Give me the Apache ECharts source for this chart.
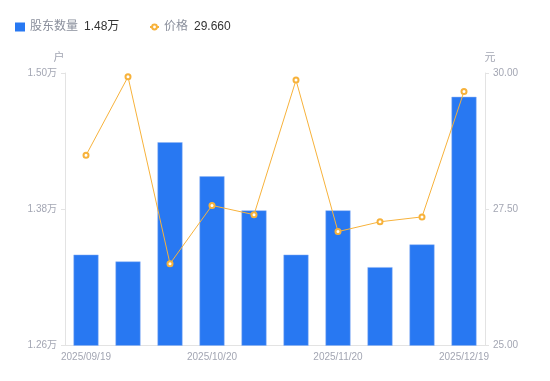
<!DOCTYPE html>
<html>
<head>
<meta charset="utf-8">
<script src="https://cdn.jsdelivr.net/npm/echarts@6/dist/echarts.min.js"></script>
<style>html,body{margin:0;padding:0;background:#fff}#c{width:550px;height:381px}</style>
</head>
<body>
<div id="c"></div>
<script>
const categories = ['2025/09/19','2025/09/30','2025/10/10','2025/10/20','2025/10/31','2025/11/10','2025/11/20','2025/11/28','2025/12/10','2025/12/19'];
const holders = [1.340, 1.334, 1.439, 1.409, 1.379, 1.340, 1.379, 1.329, 1.349, 1.479];
const prices = [28.49, 29.93, 26.50, 27.57, 27.40, 29.87, 27.09, 27.27, 27.36, 29.66];
const leftTicks = [1.26, 1.38, 1.50];
const rightTicks = [25, 27.5, 30];
const holderLegendValue = '1.48万';
const priceLegendValue = '29.660';

const FONT = '"Liberation Sans", "Noto Sans CJK SC", sans-serif';
const legendText = {
  fontFamily: FONT,
  rich: {
    n: { color: '#8a8f9c', fontSize: 12, fontFamily: FONT },
    v: { color: '#333333', fontSize: 12, fontFamily: FONT, padding: [0, 0, 0, 6] }
  }
};
const chart = echarts.init(document.getElementById('c'));
chart.setOption({
  animation: false,
  textStyle: { fontFamily: FONT },
  legend: [
    {
      left: 10, top: 16,
      itemWidth: 10, itemHeight: 9,
      itemStyle: { borderWidth: 0 },
      textStyle: legendText,
      formatter: () => '{n|股东数量}{v|' + holderLegendValue + '}',
      data: [{ name: '股东数量', icon: 'rect' }]
    },
    {
      left: 144, top: 16,
      itemWidth: 9, itemHeight: 6,
      textStyle: legendText,
      formatter: () => '{n|价格}{v|' + priceLegendValue + '}',
      data: [{ name: '价格' }]
    }
  ],
  grid: { left: 65, right: 65, top: 73, bottom: 35.5, containLabel: false },
  xAxis: {
    type: 'category',
    data: categories,
    axisLine: { lineStyle: { color: '#e3e3e3' } },
    axisTick: { show: false },
    axisLabel: { interval: 2, color: '#a3a6b3', fontSize: 10, margin: 7, fontFamily: FONT }
  },
  yAxis: [
    {
      type: 'value', name: '户', min: 1.26, max: 1.50, interval: 0.12,
      nameTextStyle: { color: '#a3a6b3', fontSize: 11, padding: [0, 12, 0, 0] },
      nameGap: 10,
      axisLine: { show: true, lineStyle: { color: '#e3e3e3' } },
      axisTick: { show: true, length: 4, lineStyle: { color: '#e3e3e3' } },
      splitLine: { show: false },
      axisLabel: { color: '#a3a6b3', fontSize: 10, margin: 8, fontFamily: FONT,
        formatter: v => v.toFixed(2) + '万' }
    },
    {
      type: 'value', name: '元', min: 25, max: 30, interval: 2.5,
      nameTextStyle: { color: '#a3a6b3', fontSize: 11, padding: [0, 0, 0, 10] },
      nameGap: 10,
      axisLine: { show: true, lineStyle: { color: '#e3e3e3' } },
      axisTick: { show: true, length: 4, lineStyle: { color: '#e3e3e3' } },
      splitLine: { show: false },
      axisLabel: { color: '#a3a6b3', fontSize: 10, margin: 8, fontFamily: FONT,
        formatter: v => v.toFixed(2) }
    }
  ],
  series: [
    {
      name: '股东数量', type: 'bar', yAxisIndex: 0, data: holders,
      barWidth: 25,
      itemStyle: { color: '#2878f2', borderColor: '#8fb5f5', borderWidth: 0.5 }
    },
    {
      name: '价格', type: 'line', yAxisIndex: 1, data: prices,
      symbol: 'emptyCircle', symbolSize: 5,
      lineStyle: { color: '#f7b23b', width: 1 },
      itemStyle: { color: '#f7b23b', borderWidth: 1.5 }
    }
  ]
});
</script>
</body>
</html>
